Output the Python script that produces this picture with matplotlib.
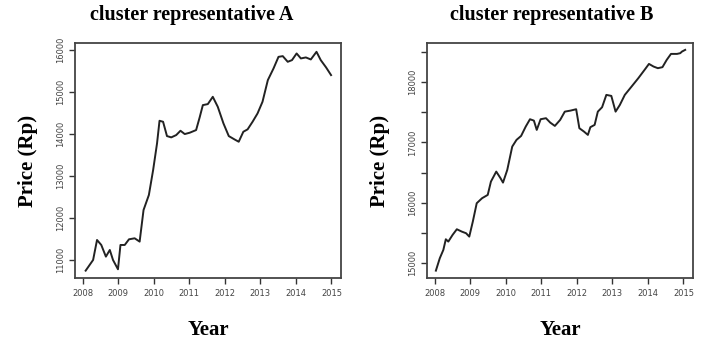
import matplotlib
matplotlib.use("Agg")
import matplotlib.pyplot as plt

# cluster representative A
years_a = [2008.08, 2008.29, 2008.40, 2008.52, 2008.65, 2008.76, 2008.85, 2008.99,
           2009.06, 2009.18, 2009.30, 2009.46, 2009.60, 2009.71, 2009.86, 2009.98,
           2010.09, 2010.16, 2010.26, 2010.37, 2010.49, 2010.63, 2010.75, 2010.87,
           2011.01, 2011.19, 2011.29, 2011.38, 2011.52, 2011.66, 2011.80, 2011.96,
           2012.11, 2012.27, 2012.39, 2012.52, 2012.64, 2012.78, 2012.92, 2013.06,
           2013.21, 2013.37, 2013.51, 2013.63, 2013.77, 2013.89, 2014.02, 2014.14,
           2014.28, 2014.42, 2014.58, 2014.70, 2014.85, 2014.99]
price_a = [10745, 11000, 11476, 11357, 11079, 11238, 11000, 10778,
           11357, 11357, 11492, 11516, 11437, 12190, 12548, 13143,
           13778, 14317, 14293, 13952, 13921, 13976, 14079, 14000,
           14032, 14095, 14397, 14690, 14714, 14888, 14650, 14254,
           13952, 13873, 13817, 14055, 14112, 14293, 14492, 14770,
           15286, 15564, 15840, 15857, 15722, 15762, 15921, 15802,
           15826, 15778, 15960, 15762, 15588, 15405]

# cluster representative B
years_b = [2008.03, 2008.14, 2008.24, 2008.31, 2008.38, 2008.50, 2008.62, 2008.76,
           2008.88, 2008.97, 2009.07, 2009.18, 2009.33, 2009.49, 2009.58, 2009.73,
           2009.85, 2009.92, 2010.04, 2010.18, 2010.30, 2010.43, 2010.56, 2010.68,
           2010.79, 2010.87, 2010.98, 2011.13, 2011.25, 2011.38, 2011.53, 2011.66,
           2011.82, 2011.98, 2012.07, 2012.20, 2012.31, 2012.38, 2012.50, 2012.59,
           2012.71, 2012.83, 2012.97, 2013.09, 2013.21, 2013.35, 2013.54, 2013.73,
           2013.92, 2014.03, 2014.16, 2014.28, 2014.41, 2014.53, 2014.65, 2014.82,
           2014.91, 2014.96, 2015.05]
price_b = [14872, 15078, 15216, 15393, 15354, 15465, 15559, 15520,
           15493, 15437, 15686, 15991, 16074, 16129, 16350, 16516,
           16406, 16333, 16544, 16931, 17042, 17108, 17263, 17385,
           17362, 17208, 17385, 17402, 17329, 17274, 17374, 17511,
           17528, 17551, 17236, 17180, 17125, 17253, 17291, 17511,
           17584, 17789, 17772, 17511, 17622, 17789, 17927, 18066,
           18215, 18303, 18259, 18232, 18249, 18370, 18469, 18469,
           18481, 18508, 18536]

year_ticks = [2008, 2009, 2010, 2011, 2012, 2013, 2014, 2015]
a_ticks = [11000, 12000, 13000, 14000, 15000, 16000]
b_ticks = [15000, 15500, 16000, 16500, 17000, 17500, 18000, 18500]
b_tick_labels = ["15000", "", "16000", "", "17000", "", "18000", ""]

serif = ["Liberation Serif", "DejaVu Serif"]

fig = plt.figure(figsize=(7.06, 3.44), dpi=100)
ax_a = fig.add_axes([75 / 706, 1 - 278 / 344, 266 / 706, 235 / 344])
ax_b = fig.add_axes([427 / 706, 1 - 278 / 344, 266 / 706, 235 / 344])


def style_panel(ax, title, yticks, ylabels, ylim, title_x):
    ax.set_xlim(2007.78, 2015.27)
    ax.set_ylim(*ylim)
    ax.set_xticks(year_ticks)
    ax.set_xticklabels([str(y) for y in year_ticks])
    ax.set_yticks(yticks)
    ax.set_yticklabels(ylabels, rotation=90, va="center")
    ax.tick_params(direction="out", length=4, width=1, color="#333333",
                   labelsize=6, labelcolor="#444444", pad=4)
    ax.tick_params(axis="y", pad=3)
    for spine in ax.spines.values():
        spine.set_color("#444444")
        spine.set_linewidth(1.3)
    ax.set_xlabel("Year", family=serif, fontweight="bold", fontsize=15, labelpad=16)
    ax.set_ylabel("Price (Rp)", family=serif, fontweight="bold", fontsize=15, labelpad=13)
    ax.text(title_x, 1.075, title, transform=ax.transAxes, ha="center", va="bottom",
            family=serif, fontweight="bold", fontsize=14.5)


ax_a.plot(years_a, price_a, color="#222222", linewidth=1.4)
style_panel(ax_a, "cluster representative A", a_ticks, [str(t) for t in a_ticks],
            (10570, 16170), 0.44)

ax_b.plot(years_b, price_b, color="#222222", linewidth=1.4)
style_panel(ax_b, "cluster representative B", b_ticks, b_tick_labels,
            (14750, 18650), 0.47)

fig.savefig("out.png", dpi=100)
